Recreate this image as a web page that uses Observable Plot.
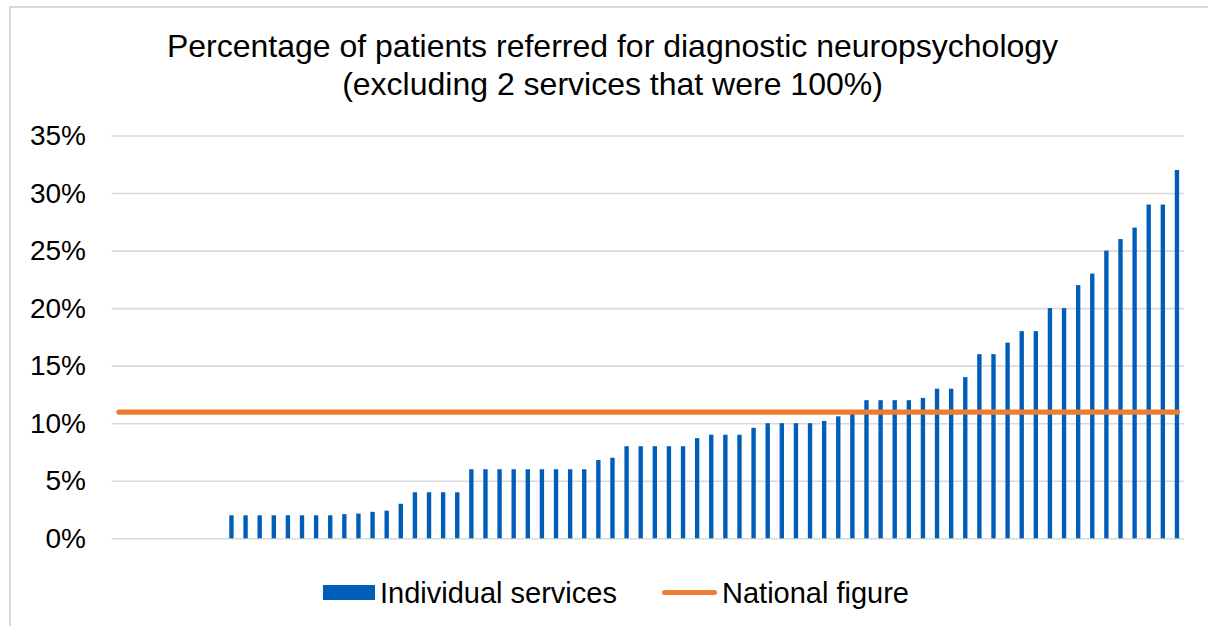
<!DOCTYPE html>
<html><head><meta charset="utf-8">
<script src="https://cdn.jsdelivr.net/npm/d3@7"></script>
<script src="https://cdn.jsdelivr.net/npm/@observablehq/plot@0.6"></script>
<style>
body{margin:0;width:1208px;height:626px;overflow:hidden;background:#fff;font-family:"Liberation Sans",Arial,sans-serif;position:relative}
#frame{position:absolute;left:9px;top:6px;width:1220px;height:660px;border:2px solid #d9d9d9;box-sizing:border-box}
#title{position:absolute;left:0;top:27px;width:1225px;text-align:center;font-size:32px;line-height:38px;color:#000}
#chart{position:absolute;left:0;top:115px}
#legend{position:absolute;left:0;top:575px;width:1208px;height:36px;font-size:29px;color:#000}
.sw{position:absolute}
.lt{position:absolute;top:0;line-height:36px;white-space:nowrap}
</style></head><body>
<div id="frame"></div>
<div id="title">Percentage of patients referred for diagnostic neuropsychology<br>(excluding 2 services that were 100%)</div>
<div id="chart"></div>
<div id="legend">
  <div class="sw" style="left:323px;top:10px;width:52px;height:15px;background:#005EB8"></div>
  <div class="lt" style="left:380px">Individual services</div>
  <div class="sw" style="left:662px;top:15px;width:55px;height:5px;border-radius:3px;background:#ED7D31"></div>
  <div class="lt" style="left:722px">National figure</div>
</div>
<script>
// Percentage per service (sorted), 8 services at 0%
const serviceValues = [0,0,0,0,0,0,0,0,
  2,2,2,2,2,2,2,2, 2.1,2.15,2.3,2.4, 3, 4,4,4,4,
  6,6,6,6,6,6,6,6,6, 6.8,7, 8,8,8,8,8, 8.7, 9,9,9, 9.6,
  10,10,10,10, 10.2, 10.6, 10.8, 12,12,12,12, 12.2, 13,13, 14,
  16,16, 17, 18,18, 20,20, 22, 23, 25, 26, 27, 29,29, 32];
const services = serviceValues.map((_, i) => i + 1);
const nationalFigure = 11;
const yTicks = [0, 5, 10, 15, 20, 25, 30, 35];

const bars = services.map((s, i) => ({service: s, value: serviceValues[i]}));
const national = services.map(s => ({service: s, value: nationalFigure}));

const chart = Plot.plot({
  width: 1208,
  height: 445,
  marginLeft: 111.5,
  marginRight: 24,
  marginTop: 20.5,
  marginBottom: 21.7,
  style: {fontFamily: '"Liberation Sans", Arial, sans-serif', fontSize: "28px", color: "#000", background: "transparent", overflow: "visible"},
  x: {type: "band", domain: services, paddingInner: 0.69, paddingOuter: 0.345, round: false, axis: null},
  y: {domain: [0, 35], ticks: yTicks, tickFormat: d => d + "%", tickSize: 0, tickPadding: 26, label: null},
  marks: [
    Plot.ruleY(yTicks, {stroke: "#d9d9d9", strokeWidth: 1.6}),
    Plot.barY(bars, {x: "service", y: "value", fill: "#005EB8"}),
    Plot.line(national, {x: "service", y: "value", stroke: "#ED7D31", strokeWidth: 5.3, strokeLinecap: "round"})
  ]
});
document.getElementById("chart").appendChild(chart);
</script>
</body></html>
